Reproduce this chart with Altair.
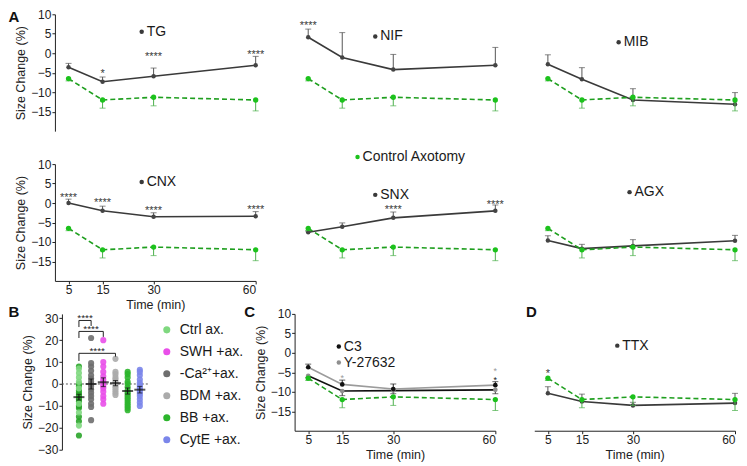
import altair as alt
import pandas as pd

FONT = "Liberation Sans"
DARK = "#3a3a3a"
GREEN_LINE = "#1f9f1f"
GREEN_PT = "#1cc21c"
GREEN_ERR = "#4cb04c"

# ---------------- data ----------------
times = [5, 15, 30, 60]
y_ticks = [-15, -10, -5, 0, 5, 10]
b_ticks = [-30, -20, -10, 0, 10, 20, 30]

ctrl_mean = [-6.5, -12.0, -11.3, -12.0]
ctrl_err = [0.6, 2.1, 2.2, 2.8]

tg_mean = [-3.6, -7.3, -5.9, -3.1]
tg_err = [1.0, 1.2, 2.1, 2.3]
nif_mean = [4.1, -1.1, -4.2, -3.1]
nif_err = [2.1, 6.4, 3.9, 4.6]
mib_mean = [-2.8, -6.7, -12.0, -13.1]
mib_err = [2.4, 3.0, 2.9, 3.0]
cnx_mean = [0.0, -2.0, -3.5, -3.4]
cnx_err = [1.0, 1.2, 1.0, 1.2]
snx_mean = [-7.5, -6.1, -3.8, -2.0]
snx_err = [0.3, 1.0, 1.5, 1.5]
agx_mean = [-9.6, -11.7, -11.0, -9.7]
agx_err = [1.2, 1.1, 1.6, 1.4]
c3_mean = [-3.7, -8.1, -9.3, -8.3]
c3_err = [0.8, 1.1, 1.3, 0.9]
y27_mean = [-5.9, -9.8, -9.7, -9.5]
y27_err = [0.4, 1.2, 0.8, 1.0]
ttx_mean = [-10.4, -12.5, -13.5, -12.9]
ttx_err = [1.7, 1.9, 0.8, 2.5]

# significance stars (time, y, text)
tg_star_t, tg_star_y, tg_star_s = [15, 30, 60], [-4.6, -0.2, 0.4], ["*", "****", "****"]
nif_star_t, nif_star_y, nif_star_s = [5], [7.7], ["****"]
cnx_star_t, cnx_star_y, cnx_star_s = [5, 15, 30, 60], [2.1, 0.8, -1.3, -1.1], ["****"] * 4
snx_star_t, snx_star_y, snx_star_s = [30, 60], [-1.1, 0.2], ["****", "****"]
c_star_t, c_star_y, c_star_s = [15, 60, 60], [-5.6, -3.8, -6.2], ["*", "*", "*"]
c_star_c = ["#9a9a9a", "#9a9a9a", "#222222"]
ttx_star_t, ttx_star_y, ttx_star_s = [5], [-4.7], ["*"]

# in-panel labels (x in minutes, y in %)
tg_lab = ([26.5], [5.5], ["TG"], [DARK])
nif_lab = ([24.7], [4.3], ["NIF"], [DARK])
mib_lab = ([25.8], [2.8], ["MIB"], [DARK])
cnx_lab = ([26.5], [5.4], ["CNX"], [DARK])
snx_lab = ([24.7, 19.5], [2.1, 11.8], ["SNX", "Control  Axotomy"], [DARK, GREEN_PT])
agx_lab = ([29.0], [2.8], ["AGX"], [DARK])
c_lab = ([14.0, 14.0], [1.6, -2.5], ["C3", "Y-27632"], ["#111111", "#8f8f8f"])
ttx_lab = ([25.4], [1.85], ["TTX"], [DARK])

# panel B
b_groups = ["Ctrl ax.", "SWH +ax.", "-Ca²⁺+ax.", "BDM +ax.", "BB +ax.", "CytE +ax."]
b_colors = ["#7fd87f", "#e94fe9", "#6e6e6e", "#ababab", "#2cb52c", "#7b86ea"]
b_column = [1, 3, 2, 4, 5, 6]
ctrl_ax_vals = [7, 5, 3, 1, -2, -9, -13, -19]
ctrl_dark_vals = [8, 0, -1, -3, -4, -5, -6, -7, -8, -10, -11, -15, -17, -23.5]
swh_vals = [20, 10, 8, 5.5, 3.5, 2, 1, 0, -1, -2, -3.5, -5.5, -7, -9]
ca_vals = [21, 9.5, 8, 6, 4, 2.5, 1, 0, -1, -2.5, -4, -5.5, -7, -9, -10.5, -16.5]
bdm_vals = [11.5, 5.5, 4.5, 3, 2, 1, 0, -1, -2, -3, -4, -5]
bb_vals = [5.5, 4.5, 3, 1, 0, -1.5, -3, -4, -5, -6, -7, -8, -9, -10, -11, -12]
cyte_vals = [6.5, 5.5, 4, 2, 0.5, -0.5, -1.5, -2.5, -3.5, -4.5, -5.5, -7, -8.5, -10]
b_mean = [-6.0, 0.8, 0.0, 0.4, -3.2, -2.6]
b_sem = [1.3, 2.0, 2.3, 1.2, 1.4, 1.5]
br_from = [1, 1, 1]
br_to = [2, 3, 4]
br_top = [29, 24, 14]
br_left_bot = [26, 21, 10.5]
br_right_bot = [26.5, 21.5, 12.5]
br_star_x = [1.5, 2.0, 2.5]
br_star_y = [31.3, 26.5, 16.2]

# ---------------- layout ----------------
W, H = 201, 117
HB = 136
ROWGAP, COLGAP = 33, 39
XDOM = [1, 60]
YDOM = [-20, 10]


def ex(field, axis):
    return alt.X(field, type="quantitative", scale=alt.Scale(domain=XDOM, nice=False, zero=False), axis=axis)


def ey(field, axis):
    return alt.Y(field, type="quantitative", scale=alt.Scale(domain=YDOM, nice=False, zero=False), axis=axis)


def series(mean, err, sign, line_color, point_color, err_color, dash, psize, xax, yax):
    df = pd.DataFrame({"t": times, "m": mean, "e": [m + sign * e for m, e in zip(mean, err)]})
    base = alt.Chart(df)
    line_kw = dict(color=line_color, strokeWidth=1.6)
    if dash:
        line_kw["strokeDash"] = dash
    return [
        base.mark_rule(color=err_color, strokeWidth=1).encode(x=ex("t", xax), y=ey("m", yax), y2=alt.Y2("e")),
        base.mark_tick(orient="horizontal", color=err_color, size=6, thickness=1).encode(x=ex("t", xax), y=ey("e", yax)),
        base.mark_line(**line_kw).encode(x=ex("t", xax), y=ey("m", yax)),
        base.mark_circle(color=point_color, size=psize, opacity=1).encode(x=ex("t", xax), y=ey("m", yax)),
    ]


def stars(ts, ys, ss, cs, xax, yax, fs=11):
    df = pd.DataFrame({"t": ts, "y": ys, "s": ss, "c": cs})
    return alt.Chart(df).mark_text(fontSize=fs, baseline="middle", dy=3).encode(
        x=ex("t", xax), y=ey("y", yax), text="s:N", color=alt.Color("c:N", scale=None))


def labels(spec, xax, yax):
    xs, ys, ts, cs = spec
    df = pd.DataFrame({"x": xs, "y": ys, "txt": ts, "c": cs})
    dot = alt.Chart(df).mark_circle(size=20, opacity=1).encode(
        x=ex("x", xax), y=ey("y", yax), color=alt.Color("c:N", scale=None))
    txt = alt.Chart(df).mark_text(align="left", baseline="middle", dx=5, fontSize=14, color="#1a1a1a").encode(
        x=ex("x", xax), y=ey("y", yax), text="txt:N")
    return [dot, txt]


def letter(ch, px, py):
    return alt.Chart(pd.DataFrame({"L": [ch]})).mark_text(
        fontSize=15, fontWeight="bold", align="center", baseline="middle", color="#111").encode(
        text="L:N", x=alt.value(px), y=alt.value(py))


def line_panel(drugs, star_spec, lab_spec, show_y=False, show_x=False, letters=(), star_fs=11):
    xax = alt.Axis(values=times, title="Time (min)", tickSize=3, labelPadding=1, titlePadding=3) if show_x else None
    yax = alt.Axis(values=y_ticks, title="Size Change (%)", tickSize=3, labelPadding=1, titlePadding=3) if show_y else None
    layers = []
    for d in drugs:
        layers += series(*d, xax=xax, yax=yax)
    layers += series(ctrl_mean, ctrl_err, -1, GREEN_LINE, GREEN_PT, GREEN_ERR, [5, 3], 28, xax, yax)
    layers.append(stars(*star_spec, xax=xax, yax=yax, fs=star_fs))
    layers += labels(lab_spec, xax, yax)
    for l in letters:
        layers.append(letter(*l))
    return alt.layer(*layers).properties(width=W, height=H)


def dk(mean, err):
    return (mean, err, 1, DARK, "#444444", "#555555", None, 20)


tg = line_panel([dk(tg_mean, tg_err)], (tg_star_t, tg_star_y, tg_star_s, [DARK] * 3), tg_lab,
                show_y=True, letters=[("A", -41, 3)])
nif = line_panel([dk(nif_mean, nif_err)], (nif_star_t, nif_star_y, nif_star_s, [DARK]), nif_lab)
mib = line_panel([dk(mib_mean, mib_err)], ([], [], [], []), mib_lab)
cnx = line_panel([dk(cnx_mean, cnx_err)], (cnx_star_t, cnx_star_y, cnx_star_s, [DARK] * 4), cnx_lab,
                 show_y=True, show_x=True)
snx = line_panel([dk(snx_mean, snx_err)], (snx_star_t, snx_star_y, snx_star_s, [DARK] * 2), snx_lab)
agx = line_panel([dk(agx_mean, agx_err)], ([], [], [], []), agx_lab)
pc = line_panel([
    (y27_mean, y27_err, -1, "#111111", "#8f8f8f", "#333333", None, 22),
    (c3_mean, c3_err, 1, "#9b9b9b", "#111111", "#222222", None, 22),
], (c_star_t, c_star_y, c_star_s, c_star_c), c_lab, show_y=True, show_x=True,
    letters=[("C", -45, -2)], star_fs=9)
pd_ = line_panel([dk(ttx_mean, ttx_err)], (ttx_star_t, ttx_star_y, ttx_star_s, [DARK]), ttx_lab,
                 show_x=True, letters=[("D", -3, -2)])

# ---- panel B ----
BXS = alt.Scale(domain=[-0.97, 15.51], nice=False, zero=False)
BYS = alt.Scale(domain=[-30, 32], nice=False, zero=False)
bax = alt.Axis(values=b_ticks, title="Size Change (%)", tickSize=3, labelPadding=1, titlePadding=3, offset=-7)


def bx(f):
    return alt.X(f, type="quantitative", scale=BXS, axis=None)


def by(f):
    return alt.Y(f, type="quantitative", scale=BYS, axis=bax)


b_lists = [ctrl_ax_vals, swh_vals, ca_vals, bdm_vals, bb_vals, cyte_vals]
rows = []
for g, c, vals in zip(b_groups, b_column, b_lists):
    for v in vals:
        rows.append({"group": g, "col": c, "y": v})
b_df = pd.DataFrame(rows)
b_dark_df = pd.DataFrame({"col": [1] * len(ctrl_dark_vals), "y": ctrl_dark_vals})
b_stat = pd.DataFrame({"col": b_column, "m": b_mean,
                       "lo": [m - s for m, s in zip(b_mean, b_sem)],
                       "hi": [m + s for m, s in zip(b_mean, b_sem)]})
br_df = pd.DataFrame({"x1": br_from, "x2": br_to, "top": br_top, "lb": br_left_bot, "rb": br_right_bot,
                      "sx": br_star_x, "sy": br_star_y, "s": ["****"] * 3})
zero_df = pd.DataFrame({"y": [0]})

# legend is positioned in the coordinates of the whole grid (origin = top-left of panel A)
B_ORIGIN_Y = 2 * (H + ROWGAP)

b_layers = [
    alt.Chart(zero_df).mark_rule(color="#555", strokeDash=[2, 2], strokeWidth=1).encode(
        y=by("y"), x=alt.value(7), x2=alt.value(95)),
    alt.Chart(b_dark_df).mark_circle(size=38, opacity=0.9, color="#2aa52a").encode(x=bx("col"), y=by("y")),
    alt.Chart(b_df).mark_circle(size=38, opacity=0.9).encode(
        x=bx("col"), y=by("y"),
        color=alt.Color("group:N", scale=alt.Scale(domain=b_groups, range=b_colors),
                        legend=alt.Legend(title=None, orient="none", legendX=105, legendY=B_ORIGIN_Y + 9,
                                          symbolType="circle", symbolSize=50, symbolStrokeWidth=0,
                                          labelFontSize=14, labelFont=FONT, labelColor="#1a1a1a",
                                          rowPadding=8, labelOffset=6, padding=0))),
    alt.Chart(b_stat).mark_rule(color="#111", strokeWidth=1).encode(x=bx("col"), y=by("lo"), y2=alt.Y2("hi")),
    alt.Chart(b_stat).mark_tick(orient="horizontal", color="#111", size=5, thickness=1).encode(x=bx("col"), y=by("lo")),
    alt.Chart(b_stat).mark_tick(orient="horizontal", color="#111", size=5, thickness=1).encode(x=bx("col"), y=by("hi")),
    alt.Chart(b_stat).mark_tick(orient="horizontal", color="#111", size=11, thickness=2).encode(x=bx("col"), y=by("m")),
    alt.Chart(br_df).mark_rule(color="#222", strokeWidth=1).encode(x=bx("x1"), x2=alt.X2("x2"), y=by("top")),
    alt.Chart(br_df).mark_rule(color="#222", strokeWidth=1).encode(x=bx("x1"), y=by("top"), y2=alt.Y2("lb")),
    alt.Chart(br_df).mark_rule(color="#222", strokeWidth=1).encode(x=bx("x2"), y=by("top"), y2=alt.Y2("rb")),
    alt.Chart(br_df).mark_text(fontSize=10, color="#222", baseline="middle", dy=3).encode(
        x=bx("sx"), y=by("sy"), text="s:N"),
    letter("B", -41, -2),
]
pb = alt.layer(*b_layers).properties(width=W, height=HB)

chart = alt.concat(tg, nif, mib, cnx, snx, agx, pb, pc, pd_, columns=3,
                   spacing={"row": ROWGAP, "column": COLGAP}, bounds="flush").properties(
    padding={"left": 0, "top": 0, "right": 0, "bottom": 0})
chart = chart.configure_view(stroke=None).configure_axis(
    labelFont=FONT, titleFont=FONT, labelFontSize=12, titleFontSize=12.5, titleFontWeight="normal",
    labelColor="#222", titleColor="#222", domainColor="#222", tickColor="#222", grid=False,
).configure_text(font=FONT).configure_legend(labelFont=FONT)

chart.save("out.html", embed_options={"renderer": "svg", "actions": False})
